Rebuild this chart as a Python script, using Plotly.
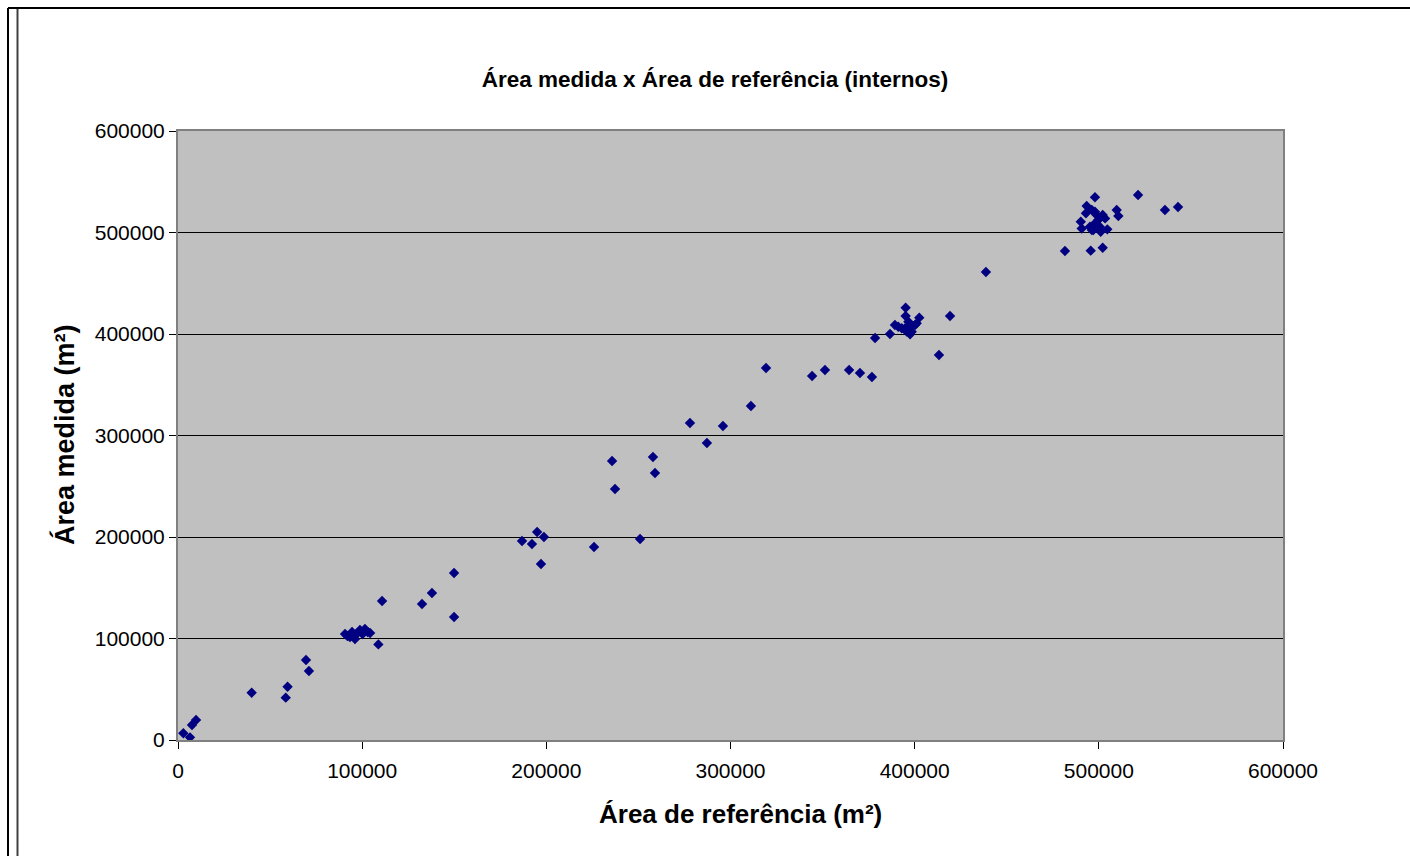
import plotly.graph_objects as go

area_ref = [
    2900, 6500, 7600, 9800, 40000, 58500, 59500, 69500, 71100,
    90700, 93400, 94500, 96100, 97500, 98800, 100200, 101500, 103000, 104300, 96100, 92000,
    108800, 110800, 132500, 137900, 149900, 149900,
    186800, 192200, 195000, 198700, 197100, 225900, 250900,
    235700, 237300, 257900, 259000, 278000, 287200, 295900, 311100, 319300,
    344300, 351300, 364400, 370300, 376800, 378500, 386600, 413200, 419200,
    395100, 395100, 389300, 391100, 393000, 396600, 397500, 398400, 397500, 400200,
    402500, 401100, 394800, 395700,
    438700, 481600, 495600, 502100, 521300, 535900, 543000,
    497900, 493400, 496200, 497900, 493000, 490200, 490700, 495200, 496200, 497900,
    499700, 502100, 503400, 500500, 501000, 504600, 509700, 510600, 498800, 497000,
]
area_medida = [
    6600, 2600, 14800, 19700, 46600, 41700, 52500, 78800, 68000,
    104400, 101500, 106400, 103500, 105400, 108400, 104400, 109300, 106400, 105400, 99500, 102500,
    94200, 136900, 134000, 144800, 164500, 121200,
    196100, 193100, 204900, 200000, 173400, 190100, 198000,
    274900, 247300, 278800, 263000, 312300, 292600, 309300, 329100, 366500,
    358600, 364500, 364500, 361600, 357600, 396000, 400000, 379300, 417700,
    425900, 417700, 408900, 407200, 405600, 412100, 407200, 402300, 399700, 408900,
    416100, 410500, 405600, 402300,
    461100, 481800, 482100, 485000, 536900, 522100, 525100,
    534700, 526100, 522100, 520500, 518900, 510600, 504000, 505700, 502500, 509000,
    512300, 517200, 513900, 505700, 500800, 503100, 522100, 516200, 517200, 502500,
]

title_text = "Área medida x Área de referência (internos)"
x_title = "Área de referência (m²)"
y_title = "Área medida (m²)"
tick_vals = [0, 100000, 200000, 300000, 400000, 500000, 600000]
tick_text = ["0", "100000", "200000", "300000", "400000", "500000", "600000"]

fig = go.Figure()
fig.add_trace(go.Scatter(
    x=area_ref, y=area_medida, mode="markers",
    marker=dict(symbol="diamond", size=8, color="#000080",
                line=dict(width=0)),
    showlegend=False, hoverinfo="x+y",
))

font_family = "Liberation Sans, Arial, sans-serif"
W, H = 1410, 856
L, R, T, B = 178, 1283, 131, 740
pw, ph = R - L, B - T

def px_x(p):
    return (p - L) / pw

def px_y(p):
    return (B - p) / ph

fig.update_layout(
    width=W, height=H,
    margin=dict(l=L, r=W - R, t=T, b=H - B, pad=0),
    paper_bgcolor="white",
    plot_bgcolor="#C0C0C0",
    font=dict(family=font_family, color="black", size=21),
    title=dict(text="<b>" + title_text + "</b>", x=715 / W, xanchor="center",
               y=1 - 79 / H, yanchor="middle", font=dict(size=22.5, color="black")),
    xaxis=dict(range=[0, 600000], tickvals=tick_vals, ticktext=tick_text,
               showgrid=False, zeroline=False,
               showline=True, linecolor="#808080", linewidth=2, mirror=True,
               ticks="outside", ticklen=7, tickcolor="black", tickwidth=1,
               ticklabelstandoff=4, tickfont=dict(size=21)),
    yaxis=dict(range=[0, 600000], tickvals=tick_vals, ticktext=tick_text,
               showgrid=True, gridcolor="black", gridwidth=1, zeroline=False,
               showline=True, linecolor="#808080", linewidth=2, mirror=True,
               ticks="outside", ticklen=7, tickcolor="black", tickwidth=1,
               tickfont=dict(size=21)),
    annotations=[
        dict(text="<b>" + x_title + "</b>", xref="paper", yref="paper",
             x=px_x(740), y=px_y(814), xanchor="center", yanchor="middle",
             showarrow=False, font=dict(size=26, color="black")),
        dict(text="<b>" + y_title + "</b>", xref="paper", yref="paper",
             x=px_x(65), y=px_y(435), xanchor="center", yanchor="middle",
             textangle=-90, showarrow=False, font=dict(size=27, color="black")),
    ],
    shapes=[
        dict(type="line", xref="paper", yref="paper",
             x0=px_x(8), x1=px_x(8), y0=px_y(8), y1=px_y(H + 5),
             line=dict(color="black", width=2)),
        dict(type="line", xref="paper", yref="paper",
             x0=px_x(17.5), x1=px_x(17.5), y0=px_y(8), y1=px_y(H + 5),
             line=dict(color="#404040", width=2)),
        dict(type="line", xref="paper", yref="paper",
             x0=px_x(8), x1=px_x(W + 5), y0=px_y(8), y1=px_y(8),
             line=dict(color="black", width=2)),
    ],
)

fig.write_html("out.html")
